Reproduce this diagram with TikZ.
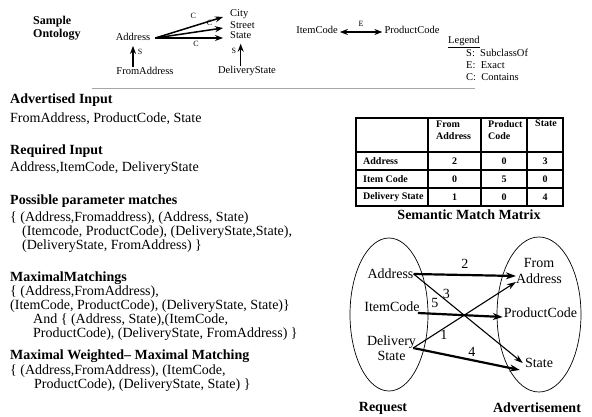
\documentclass[tikz,border=0pt]{standalone}
\usepackage{fontspec}
\setmainfont{Liberation Serif}
\usetikzlibrary{arrows.meta,shapes.geometric}

\begin{document}
\begin{tikzpicture}[x=1pt, y=-1pt, inner sep=0pt,
    onto/.style={font=\fontsize{10.5}{12}\selectfont},
    tiny/.style={font=\fontsize{8}{9}\selectfont},
    heading/.style={font=\fontsize{14}{12}\selectfont\bfseries, anchor=base west},
    body/.style={font=\fontsize{14}{12}\selectfont, anchor=north west, align=left},
    cell/.style={font=\fontsize{10}{12.5}\selectfont\bfseries},
    big/.style={font=\fontsize{14}{15.5}\selectfont, align=center},
    ontoarrow/.style={-{Stealth[length=8pt,width=6pt]}, line width=1.5pt},
    heavy/.style={-{Stealth[length=10pt,width=7pt]}, line width=2.2pt},
    light/.style={-{Stealth[length=9pt,width=6pt]}, line width=1.1pt}]
    \useasboundingbox (0,0) rectangle (592,417);

    % Sample ontology
    \node[font=\fontsize{12}{13}\selectfont\bfseries, align=left, anchor=west] (title) at (33,28.5) {Sample\\Ontology};
    \node[onto] (addr) at (133,37) {Address};
    \node[onto, anchor=west] (city) at (230,14) {City};
    \node[onto, anchor=west] (street) at (230,25) {Street};
    \node[onto, anchor=west] (state) at (230,35) {State};
    \node[onto] (fromaddr) at (145,71) {FromAddress};
    \node[onto] (dstate) at (247,71) {DeliveryState};
    \node[onto] (item) at (317,30) {ItemCode};
    \node[onto] (prod) at (412,30) {ProductCode};

    \draw[ontoarrow] ([xshift=5pt,yshift=-1pt]addr.east) -- ([xshift=-7pt,yshift=-3pt]city.west) node[tiny, pos=0.56, above=7pt] {C};
    \draw[ontoarrow] ([xshift=5pt,yshift=-1pt]addr.east) -- ([xshift=-7pt,yshift=-3pt]street.west) node[tiny, pos=0.8, above=4pt] {C};
    \draw[ontoarrow] ([xshift=5pt,yshift=-1pt]addr.east) -- ([xshift=-7pt,yshift=-3pt]state.west) node[tiny, pos=0.6, below=2pt] {C};
    \draw[ontoarrow] (fromaddr.north -| addr.south) -- ([yshift=-5pt]addr.south) node[tiny, pos=0.7, right=4pt] {S};
    \draw[ontoarrow] (dstate.north -| state.south) -- ([yshift=-5pt]state.south) node[tiny, pos=0.7, left=4pt] {S};
    \draw[ontoarrow, {Stealth[length=8pt,width=6pt]}-{Stealth[length=8pt,width=6pt]}] ([xshift=2pt,yshift=-2pt]item.east) -- ([xshift=-2pt,yshift=-2pt]prod.west) node[tiny, midway, above=5pt] {E};

    % Legend
    \node[onto, anchor=west] (legend) at (448,40.5) {Legend};
    \draw[line width=0.8pt] ([yshift=-1.5pt]legend.south west) -- ([yshift=-1.5pt]legend.south east);
    \node[onto, anchor=north west, align=left] (legendtext) at (466,49) {S:~ SubclassOf\\E:~ Exact\\C:~ Contains};
    \draw[gray!70, line width=0.8pt] (92,88) -- (475,88);

    % Inputs and matchings
    \node[heading] (advhead) at (10,104) {Advertised Input};
    \node[body] (advbody) at (10,112.5) {FromAddress, ProductCode, State};
    \node[heading] (reqhead) at (10,154.5) {Required Input};
    \node[body] (reqbody) at (10,162) {Address,ItemCode, DeliveryState};
    \node[heading] (posshead) at (10,204.5) {Possible parameter matches};
    \node[body] (possbody) at (10,212) {\{ (Address,Fromaddress), (Address, State)\\
        \hspace*{12pt}(Itemcode, ProductCode), (DeliveryState,State),\\
        \hspace*{12pt}(DeliveryState, FromAddress) \}};
    \node[heading] (maxhead) at (10,281.5) {MaximalMatchings};
    \node[body] (maxbody) at (10,286) {\{ (Address,FromAddress),\\
        (ItemCode, ProductCode), (DeliveryState, State)\}\\
        \hspace*{23pt}And \{ (Address, State),(ItemCode,\\
        \hspace*{23pt}ProductCode), (DeliveryState, FromAddress) \}};
    \node[heading] (wmaxhead) at (10,359.5) {Maximal Weighted-- Maximal Matching};
    \node[body] (wmaxbody) at (10,364.5) {\{ (Address,FromAddress), (ItemCode,\\
        \hspace*{24pt}ProductCode), (DeliveryState, State) \}};

    % Semantic match matrix
    \draw[line width=1.8pt] (356,118) rectangle (563,206);
    \draw[line width=1.2pt] (428,118) -- (428,206) (481,118) -- (481,206) (527,118) -- (527,206)
        (356,152) -- (563,152) (356,170) -- (563,170) (356,188) -- (563,188);
    \node[cell, anchor=north west, align=left] (hfrom) at (436,120.5) {From\\Address};
    \node[cell, anchor=north west, align=left] (hprod) at (488,120) {Product\\Code};
    \node[cell, anchor=north west] (hstate) at (535,120) {State};
    \node[cell, anchor=west] (raddrrow) at (363,161) {Address};
    \node[cell, anchor=west] (ritemrow) at (363,179) {Item Code};
    \node[cell, anchor=west] (rdelrow) at (363,197) {Delivery State};
    \foreach \a/\b/\c [count=\r] in {2/0/3, 0/5/0, 1/0/4} {
        \node[cell] (m\r a) at (454.5,143+18*\r) {\a};
        \node[cell] (m\r b) at (504,143+18*\r) {\b};
        \node[cell] (m\r c) at (545,143+18*\r) {\c};
    }
    \node[font=\fontsize{14}{16}\selectfont\bfseries] (mcaption) at (469,215) {Semantic Match Matrix};

    % Request and advertisement
    \node[draw, ellipse, line width=0.7pt, minimum width=78pt, minimum height=153pt] (request) at (389,314.5) {};
    \node[draw, ellipse, line width=0.7pt, minimum width=84pt, minimum height=155pt] (advert) at (539,314.5) {};
    \node[big] (raddr) at (390.5,274) {Address};
    \node[big] (ritem) at (392,307) {ItemCode};
    \node[big] (rdel) at (391.5,348) {Delivery\\State};
    \node[big] (afrom) at (539,271) {From\\Address};
    \node[big] (aprod) at (540.5,313) {ProductCode};
    \node[big] (astate) at (539,363) {State};

    \draw[heavy] (raddr.east) -- ([yshift=-5pt]afrom.west) node[big, midway, above=5pt] {2};
    \draw[light] (raddr.east) -- ([xshift=-2pt]astate.west) node[big, pos=0.3, above=2pt] {3};
    \draw[heavy] ([xshift=-2pt,yshift=-6pt]ritem.east) -- ([xshift=-1pt,yshift=-4pt]aprod.west) node[big, pos=0.2, above=5pt] {5};
    \draw[light] ([xshift=-3pt]rdel.east) -- ([yshift=-11pt]afrom.west) node[big, pos=0.3, below=2pt] {1};
    \draw[heavy] ([xshift=-3pt]rdel.east) -- ([xshift=-5pt,yshift=-7pt]astate.west) node[big, pos=0.55, above=3pt] {4};

    \node[font=\fontsize{14}{16}\selectfont\bfseries] (reqlabel) at (383,408) {Request};
    \node[font=\fontsize{14}{16}\selectfont\bfseries] (advlabel) at (537,408) {Advertisement};
\end{tikzpicture}
\end{document}
